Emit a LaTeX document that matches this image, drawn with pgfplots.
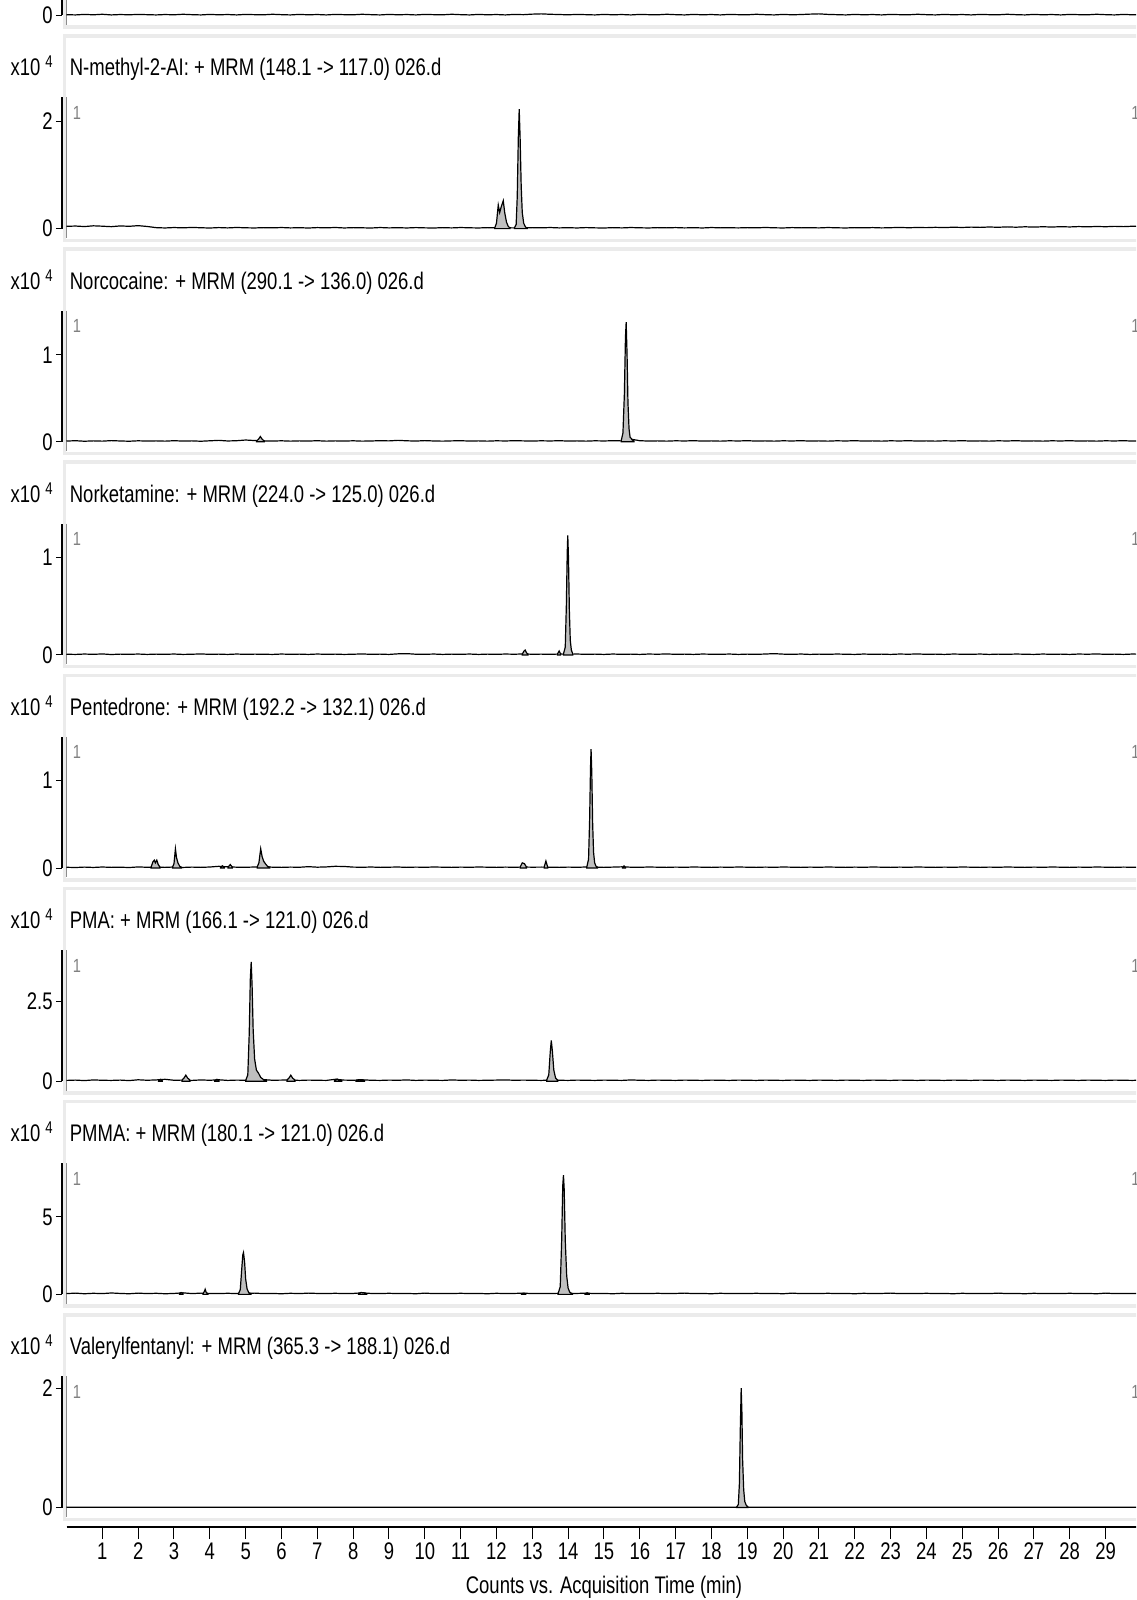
\documentclass[border=0pt]{standalone}
\usepackage{pgfplots}
\pgfplotsset{compat=1.18}
\usepackage{pgfplotstable}
\usepackage{fontspec}
\setmainfont{Liberation Sans}[FakeStretch=0.77]

\pgfplotstableread{
t p0 p1 p2 p3 p4 p5 p6 p7
0 0.006 0.042 0.008 0.007 0.009 0.025 0.05 0.004
0.25 0.004 0.048 0.012 0.005 0.006 0.035 0.08 0.006
0.5 0.008 0.038 0.006 0.009 0.011 0.020 0.04 0.003
0.75 0.005 0.052 0.010 0.006 0.007 0.040 0.07 0.005
1 0.009 0.045 0.007 0.010 0.012 0.030 0.05 0.004
1.25 0.004 0.036 0.013 0.004 0.008 0.025 0.09 0.006
1.5 0.007 0.050 0.009 0.008 0.010 0.035 0.06 0.003
1.75 0.005 0.043 0.006 0.006 0.006 0.020 0.04 0.005
2 0.008 0.055 0.011 0.009 0.013 0.045 0.08 0.004
2.25 0.006 0.040 0.008 0.005 0.009 0.030 0.05 0.006
2.5 0.004 0.018 0.010 0.008 0.010 0.040 0.07 0.003
2.75 0.007 0.012 0.007 0.006 0.008 0.060 0.04 0.005
3 0.005 0.020 0.012 0.009 0.012 0.030 0.06 0.004
3.25 0.009 0.014 0.008 0.005 0.007 0.035 0.10 0.006
3.5 0.006 0.022 0.010 0.007 0.011 0.025 0.05 0.003
3.75 0.004 0.016 0.006 0.010 0.008 0.040 0.08 0.005
4 0.008 0.011 0.011 0.006 0.012 0.030 0.06 0.004
4.25 0.005 0.019 0.016 0.008 0.020 0.045 0.05 0.006
4.5 0.007 0.013 0.009 0.005 0.014 0.025 0.07 0.003
4.75 0.004 0.021 0.012 0.009 0.010 0.035 0.05 0.005
5 0.008 0.015 0.020 0.006 0.009 0.030 0.06 0.004
5.25 0.006 0.012 0.014 0.008 0.012 0.060 0.08 0.006
5.5 0.005 0.018 0.010 0.007 0.015 0.050 0.05 0.003
5.75 0.009 0.014 0.008 0.005 0.010 0.030 0.06 0.005
6 0.006 0.020 0.011 0.009 0.008 0.035 0.04 0.004
6.25 0.004 0.013 0.007 0.006 0.011 0.040 0.07 0.006
6.5 0.008 0.017 0.010 0.008 0.009 0.025 0.05 0.003
6.75 0.005 0.011 0.008 0.005 0.016 0.035 0.08 0.005
7 0.007 0.019 0.012 0.009 0.010 0.030 0.06 0.004
7.25 0.004 0.014 0.007 0.006 0.013 0.025 0.05 0.006
7.5 0.008 0.021 0.010 0.008 0.020 0.060 0.07 0.003
7.75 0.006 0.012 0.008 0.005 0.018 0.035 0.05 0.005
8 0.005 0.018 0.011 0.007 0.011 0.030 0.06 0.004
8.25 0.009 0.015 0.007 0.010 0.009 0.045 0.10 0.006
8.5 0.006 0.011 0.009 0.006 0.012 0.030 0.06 0.003
8.75 0.004 0.020 0.012 0.008 0.008 0.025 0.05 0.005
9 0.008 0.013 0.010 0.005 0.010 0.035 0.07 0.004
9.25 0.005 0.017 0.016 0.011 0.012 0.030 0.05 0.006
9.5 0.007 0.012 0.011 0.013 0.008 0.040 0.06 0.003
9.75 0.004 0.019 0.008 0.007 0.011 0.025 0.04 0.005
10 0.008 0.014 0.013 0.006 0.009 0.035 0.08 0.004
10.25 0.006 0.011 0.009 0.009 0.012 0.030 0.05 0.006
10.5 0.005 0.018 0.007 0.005 0.010 0.025 0.06 0.003
10.75 0.009 0.013 0.010 0.008 0.008 0.040 0.05 0.005
11 0.006 0.020 0.012 0.006 0.011 0.030 0.07 0.004
11.25 0.004 0.015 0.008 0.009 0.009 0.035 0.05 0.006
11.5 0.008 0.012 0.010 0.005 0.012 0.025 0.06 0.003
11.75 0.005 0.018 0.007 0.008 0.010 0.030 0.04 0.005
12 0.007 0.014 0.011 0.006 0.008 0.035 0.07 0.004
12.25 0.004 0.016 0.009 0.009 0.011 0.040 0.05 0.006
12.5 0.008 0.013 0.012 0.007 0.009 0.030 0.06 0.003
12.75 0.006 0.012 0.010 0.010 0.012 0.035 0.08 0.005
13 0.010 0.018 0.008 0.007 0.010 0.030 0.05 0.004
13.25 0.012 0.014 0.011 0.008 0.011 0.025 0.06 0.006
13.5 0.009 0.020 0.009 0.006 0.010 0.035 0.05 0.003
13.75 0.007 0.013 0.012 0.009 0.008 0.030 0.07 0.005
14 0.005 0.017 0.008 0.007 0.011 0.025 0.05 0.004
14.25 0.008 0.012 0.010 0.009 0.009 0.035 0.06 0.006
14.5 0.006 0.019 0.007 0.006 0.012 0.030 0.08 0.003
14.75 0.004 0.014 0.011 0.008 0.010 0.025 0.05 0.005
15 0.008 0.011 0.009 0.005 0.008 0.035 0.06 0.004
15.25 0.005 0.018 0.012 0.009 0.011 0.030 0.04 0.006
15.5 0.007 0.013 0.010 0.006 0.014 0.025 0.07 0.003
15.75 0.004 0.020 0.030 0.008 0.010 0.040 0.05 0.005
16 0.008 0.015 0.012 0.005 0.009 0.030 0.06 0.004
16.25 0.006 0.012 0.008 0.009 0.012 0.025 0.05 0.006
16.5 0.005 0.018 0.010 0.007 0.010 0.035 0.07 0.003
16.75 0.009 0.014 0.007 0.010 0.008 0.030 0.05 0.005
17 0.006 0.019 0.011 0.006 0.011 0.025 0.06 0.004
17.25 0.004 0.013 0.009 0.008 0.009 0.035 0.08 0.006
17.5 0.008 0.017 0.012 0.005 0.012 0.030 0.05 0.003
17.75 0.005 0.012 0.008 0.009 0.010 0.025 0.06 0.005
18 0.007 0.020 0.010 0.007 0.008 0.035 0.04 0.004
18.25 0.004 0.014 0.007 0.006 0.011 0.030 0.07 0.006
18.5 0.008 0.016 0.011 0.009 0.009 0.025 0.05 0.003
18.75 0.006 0.013 0.009 0.005 0.012 0.035 0.06 0.005
19 0.005 0.018 0.012 0.008 0.010 0.030 0.05 0.004
19.25 0.009 0.014 0.008 0.006 0.008 0.025 0.07 0.006
19.5 0.006 0.021 0.010 0.009 0.011 0.035 0.05 0.003
19.75 0.004 0.015 0.007 0.013 0.009 0.030 0.06 0.005
20 0.008 0.012 0.011 0.008 0.012 0.025 0.04 0.004
20.25 0.005 0.019 0.009 0.006 0.010 0.035 0.08 0.006
20.5 0.007 0.014 0.012 0.009 0.008 0.030 0.05 0.003
20.75 0.010 0.017 0.008 0.005 0.011 0.025 0.06 0.005
21 0.012 0.013 0.010 0.008 0.009 0.035 0.05 0.004
21.25 0.008 0.020 0.007 0.006 0.012 0.030 0.07 0.006
21.5 0.006 0.015 0.011 0.009 0.010 0.025 0.05 0.003
21.75 0.004 0.012 0.009 0.007 0.008 0.035 0.06 0.005
22 0.008 0.018 0.012 0.005 0.011 0.030 0.04 0.004
22.25 0.005 0.014 0.008 0.009 0.009 0.025 0.07 0.006
22.5 0.007 0.019 0.010 0.006 0.012 0.035 0.05 0.003
22.75 0.004 0.013 0.007 0.008 0.010 0.030 0.06 0.005
23 0.008 0.017 0.011 0.005 0.008 0.025 0.08 0.004
23.25 0.006 0.022 0.009 0.009 0.011 0.035 0.05 0.006
23.5 0.005 0.016 0.012 0.007 0.009 0.030 0.06 0.003
23.75 0.009 0.021 0.008 0.010 0.012 0.025 0.05 0.005
24 0.006 0.018 0.010 0.006 0.010 0.035 0.07 0.004
24.25 0.004 0.024 0.007 0.008 0.008 0.030 0.05 0.006
24.5 0.008 0.019 0.011 0.005 0.011 0.025 0.06 0.003
24.75 0.005 0.026 0.009 0.009 0.009 0.035 0.04 0.005
25 0.007 0.021 0.012 0.007 0.012 0.030 0.07 0.004
25.25 0.004 0.028 0.008 0.006 0.010 0.025 0.05 0.006
25.5 0.008 0.023 0.010 0.009 0.008 0.035 0.06 0.003
25.75 0.006 0.030 0.007 0.005 0.011 0.030 0.05 0.005
26 0.005 0.025 0.011 0.008 0.009 0.025 0.08 0.004
26.25 0.009 0.032 0.009 0.006 0.012 0.035 0.05 0.006
26.5 0.006 0.026 0.012 0.009 0.010 0.030 0.06 0.003
26.75 0.004 0.034 0.008 0.007 0.008 0.025 0.04 0.005
27 0.008 0.028 0.010 0.005 0.011 0.035 0.07 0.004
27.25 0.005 0.035 0.007 0.009 0.009 0.030 0.05 0.006
27.5 0.007 0.029 0.011 0.006 0.012 0.025 0.06 0.003
27.75 0.004 0.036 0.009 0.008 0.010 0.035 0.05 0.005
28 0.008 0.031 0.012 0.005 0.008 0.030 0.07 0.004
28.25 0.006 0.038 0.008 0.009 0.011 0.025 0.05 0.006
28.5 0.005 0.033 0.010 0.007 0.009 0.035 0.06 0.003
28.75 0.009 0.040 0.007 0.010 0.012 0.030 0.04 0.005
29 0.006 0.035 0.011 0.006 0.010 0.025 0.08 0.004
29.25 0.004 0.042 0.009 0.008 0.008 0.035 0.05 0.006
29.5 0.008 0.037 0.012 0.005 0.011 0.030 0.06 0.003
29.75 0.005 0.044 0.008 0.009 0.009 0.025 0.05 0.005
30 0.007 0.039 0.010 0.007 0.012 0.035 0.07 0.004
}\base

\pgfplotsset{
  panel/.style={width=539.7pt,height=65.6pt,scale only axis,
    xmin=-0.1256,xmax=30,ymin=0,
    axis x line=none,axis y line*=left,clip=false,anchor=north west,
    tick align=outside,major tick length=3pt,
    every tick/.style={black,line width=0.5pt},
    axis line style={black,line width=0.6pt},
    yticklabel style={font=\fontsize{12}{12}\selectfont,inner sep=0pt,xshift=-1.5pt},
    scaled y ticks=false,/pgf/number format/assume math mode=true},
  trace/.style={black,line width=0.6pt,mark=none},
  pk/.style={fill=black!25,draw=black,line width=0.6pt,mark=none}
}
\newcommand{\tfont}{\fontsize{12}{14}\selectfont}

\begin{document}
\begin{tikzpicture}
\useasboundingbox (0,0) rectangle (568pt,-800pt);
\clip (0,0) rectangle (568pt,-800pt);

\begin{scope}[x=0.5pt,y=-0.5pt]
\foreach \T in {-145.75,67.4,280.55,493.7,706.85,920,1133.15,1346.3}{
  \draw[black!8,line width=1.75pt] (64.7,{\T-31.5}) rectangle (1300,{\T+173});
  \draw[black!45,line width=0.5pt] (66.8,{\T+30}) -- (66.8,{\T+170.6});
}
\foreach \T in {67.4,280.55,493.7,706.85,920,1133.15,1346.3}{
  \node[anchor=base east,inner sep=0pt,font=\tfont] at (53,{\T+8.5}) {x10\hspace{2.5pt}\raisebox{4pt}{\fontsize{8.5}{9}\selectfont 4}};
  \node[anchor=base west,inner sep=0pt,text=black!50,font=\fontsize{9.5}{10}\selectfont] at (72.5,{\T+52}) {1};
  \node[anchor=base west,inner sep=0pt,text=black!50,font=\fontsize{9.5}{10}\selectfont] at (1131,{\T+52}) {1};
}
\node[anchor=base west,inner sep=0pt,font=\tfont] at (69.5,75.9) {N-methyl-2-AI: + MRM (148.1 -> 117.0) 026.d};
\node[anchor=base west,inner sep=0pt,font=\tfont] at (69.5,289.05) {Norcocaine: + MRM (290.1 -> 136.0) 026.d};
\node[anchor=base west,inner sep=0pt,font=\tfont] at (69.5,502.2) {Norketamine: + MRM (224.0 -> 125.0) 026.d};
\node[anchor=base west,inner sep=0pt,font=\tfont] at (69.5,715.35) {Pentedrone: + MRM (192.2 -> 132.1) 026.d};
\node[anchor=base west,inner sep=0pt,font=\tfont] at (69.5,928.5) {PMA: + MRM (166.1 -> 121.0) 026.d};
\node[anchor=base west,inner sep=0pt,font=\tfont] at (69.5,1141.65) {PMMA: + MRM (180.1 -> 121.0) 026.d};
\node[anchor=base west,inner sep=0pt,font=\tfont] at (69.5,1354.8) {Valerylfentanyl: + MRM (365.3 -> 188.1) 026.d};
\node[anchor=base,inner sep=0pt,font=\tfont] at (604,1593.5) {Counts vs. Acquisition Time (min)};
\end{scope}

% panel 0 (cut off)
\begin{axis}[panel,at={(31pt,57.875pt)},ymax=1,ytick={0}]
\addplot[trace] table[x=t,y=p0]{\base};
\end{axis}

% panel 1
\begin{axis}[panel,at={(31pt,-48.7pt)},ymax=2.45,ytick={0,2}]
\addplot[trace] table[x=t,y=p1]{\base};
\addplot[pk] coordinates {(11.95,0.01)(12.00,0.10)(12.05,0.44)(12.09,0.30)(12.13,0.40)(12.19,0.52)(12.23,0.30)(12.28,0.12)(12.33,0.04)(12.38,0.01)} \closedcycle;
\addplot[pk] coordinates {(12.50,0.01)(12.55,0.08)(12.58,0.6)(12.61,1.7)(12.635,2.23)(12.66,1.7)(12.69,0.8)(12.72,0.3)(12.76,0.1)(12.81,0.03)(12.86,0.01)} \closedcycle;
\end{axis}

% panel 2
\begin{axis}[panel,at={(31pt,-155.275pt)},ymax=1.51,ytick={0,1}]
\addplot[trace] table[x=t,y=p2]{\base};
\addplot[pk] coordinates {(5.30,0.008)(5.36,0.03)(5.41,0.06)(5.46,0.03)(5.52,0.008)} \closedcycle;
\addplot[pk] coordinates {(15.48,0.01)(15.53,0.1)(15.57,0.55)(15.60,1.2)(15.62,1.376)(15.645,1.0)(15.67,0.45)(15.70,0.15)(15.73,0.05)(15.76,0.04)(15.79,0.02)(15.84,0.01)} \closedcycle;
\end{axis}

% panel 3
\begin{axis}[panel,at={(31pt,-261.85pt)},ymax=1.35,ytick={0,1}]
\addplot[trace] table[x=t,y=p3]{\base};
\addplot[pk] coordinates {(12.72,0.008)(12.77,0.04)(12.80,0.05)(12.84,0.02)(12.88,0.008)} \closedcycle;
\addplot[pk] coordinates {(13.70,0.008)(13.75,0.04)(13.79,0.01)} \closedcycle;
\addplot[pk] coordinates {(13.87,0.01)(13.92,0.08)(13.95,0.5)(13.975,1.05)(13.99,1.23)(14.01,1.0)(14.035,0.45)(14.06,0.15)(14.09,0.05)(14.13,0.01)} \closedcycle;
\end{axis}

% panel 4
\begin{axis}[panel,at={(31pt,-368.425pt)},ymax=1.50,ytick={0,1}]
\addplot[trace] table[x=t,y=p4]{\base};
\addplot[pk] coordinates {(2.36,0.01)(2.41,0.07)(2.45,0.09)(2.48,0.06)(2.52,0.09)(2.56,0.04)(2.61,0.01)} \closedcycle;
\addplot[pk] coordinates {(2.96,0.01)(3.00,0.05)(3.04,0.22)(3.07,0.12)(3.11,0.06)(3.16,0.02)(3.21,0.01)} \closedcycle;
\addplot[pk] coordinates {(4.30,0.01)(4.35,0.025)(4.40,0.01)} \closedcycle;
\addplot[pk] coordinates {(4.51,0.01)(4.57,0.04)(4.63,0.01)} \closedcycle;
\addplot[pk] coordinates {(5.32,0.01)(5.37,0.06)(5.42,0.22)(5.46,0.13)(5.50,0.08)(5.55,0.05)(5.61,0.02)(5.67,0.01)} \closedcycle;
\addplot[pk] coordinates {(12.66,0.01)(12.72,0.06)(12.78,0.05)(12.84,0.01)} \closedcycle;
\addplot[pk] coordinates {(13.33,0.01)(13.38,0.08)(13.43,0.01)} \closedcycle;
\addplot[pk] coordinates {(14.52,0.01)(14.57,0.1)(14.60,0.55)(14.625,1.15)(14.64,1.36)(14.66,1.1)(14.685,0.5)(14.71,0.18)(14.74,0.06)(14.78,0.02)(14.82,0.01)} \closedcycle;
\addplot[pk] coordinates {(15.52,0.008)(15.56,0.025)(15.60,0.008)} \closedcycle;
\end{axis}

% panel 5
\begin{axis}[panel,at={(31pt,-475pt)},ymax=4.12,ytick={0,2.5}]
\addplot[trace] table[x=t,y=p5]{\base};
\addplot[pk] coordinates {(2.57,0.02)(2.62,0.06)(2.67,0.02)} \closedcycle;
\addplot[pk] coordinates {(3.22,0.03)(3.28,0.10)(3.33,0.19)(3.38,0.10)(3.45,0.03)} \closedcycle;
\addplot[pk] coordinates {(4.14,0.02)(4.20,0.06)(4.26,0.02)} \closedcycle;
\addplot[pk] coordinates {(5.00,0.02)(5.06,0.2)(5.10,1.5)(5.13,3.2)(5.155,3.75)(5.18,3.0)(5.21,1.6)(5.25,0.7)(5.30,0.35)(5.36,0.25)(5.42,0.12)(5.50,0.05)(5.58,0.03)} \closedcycle;
\addplot[pk] coordinates {(6.15,0.03)(6.21,0.1)(6.26,0.19)(6.31,0.1)(6.38,0.03)} \closedcycle;
\addplot[pk] coordinates {(7.48,0.02)(7.55,0.07)(7.62,0.03)(7.68,0.02)} \closedcycle;
\addplot[pk] coordinates {(8.08,0.02)(8.16,0.05)(8.24,0.045)(8.32,0.02)} \closedcycle;
\addplot[pk] coordinates {(13.40,0.03)(13.46,0.2)(13.50,0.9)(13.53,1.28)(13.56,0.95)(13.60,0.35)(13.65,0.1)(13.71,0.03)} \closedcycle;
\end{axis}

% panel 6
\begin{axis}[panel,at={(31pt,-581.575pt)},ymax=8.47,ytick={0,5}]
\addplot[trace] table[x=t,y=p6]{\base};
\addplot[pk] coordinates {(3.15,0.04)(3.20,0.12)(3.25,0.05)} \closedcycle;
\addplot[pk] coordinates {(3.81,0.04)(3.85,0.2)(3.87,0.33)(3.90,0.12)(3.95,0.04)} \closedcycle;
\addplot[pk] coordinates {(4.80,0.05)(4.85,0.3)(4.89,1.6)(4.92,2.55)(4.94,2.70)(4.97,2.1)(5.00,1.0)(5.04,0.35)(5.09,0.1)(5.15,0.05)} \closedcycle;
\addplot[pk] coordinates {(8.15,0.04)(8.22,0.12)(8.30,0.10)(8.38,0.04)} \closedcycle;
\addplot[pk] coordinates {(12.70,0.04)(12.76,0.08)(12.82,0.04)} \closedcycle;
\addplot[pk] coordinates {(13.72,0.05)(13.78,0.5)(13.82,3.5)(13.85,7.0)(13.87,7.70)(13.89,6.8)(13.92,3.5)(13.96,1.2)(14.00,0.4)(14.05,0.12)(14.12,0.05)} \closedcycle;
\addplot[pk] coordinates {(14.47,0.04)(14.53,0.10)(14.59,0.04)} \closedcycle;
\end{axis}

% panel 7
\begin{axis}[panel,at={(31pt,-688.15pt)},ymax=2.2,ytick={0,2}]
\addplot[trace] table[x=t,y=p7]{\base};
\addplot[pk] coordinates {(18.70,0.005)(18.75,0.05)(18.78,0.4)(18.805,1.3)(18.83,2.0)(18.85,1.6)(18.87,0.8)(18.90,0.3)(18.93,0.1)(18.97,0.04)(19.02,0.01)} \closedcycle;
\end{axis}

% bottom time axis
\begin{axis}[at={(33.25pt,-763.5pt)},anchor=south west,width=537.45pt,height=10pt,scale only axis,
  xmin=0,xmax=30,ymin=0,ymax=1,axis y line=none,axis x line*=bottom,clip=false,
  xtick={1,...,29},tick align=outside,major tick length=6pt,
  every tick/.style={black,line width=0.5pt},
  axis line style={black,line width=0.6pt},
  xticklabel style={font=\fontsize{12}{12}\selectfont,inner sep=0pt,anchor=north,yshift=-1.7pt},
  /pgf/number format/assume math mode=true]
\addplot[draw=none] coordinates {(0,0)(30,0)};
\end{axis}
\end{tikzpicture}
\end{document}
